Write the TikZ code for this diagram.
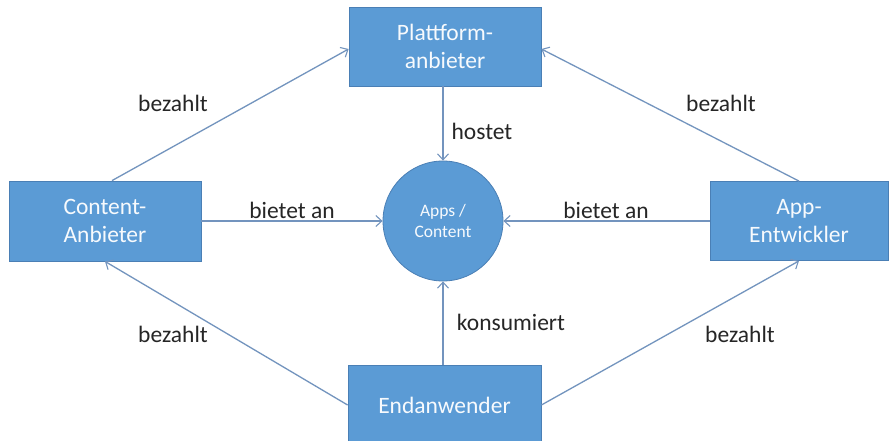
\documentclass[tikz,border=0pt]{standalone}
\usepackage{fontspec}
\setmainfont{Carlito}
\usetikzlibrary{arrows.meta}
\definecolor{boxfill}{HTML}{5B9BD5}
\definecolor{boxline}{HTML}{4A7FB5}
\definecolor{arrowcol}{HTML}{7394BE}
\definecolor{labelcol}{HTML}{262626}
\tikzset{
  actor/.style={rectangle, fill=boxfill, draw=boxline, line width=0.8pt,
    text=white!95!boxfill, align=center, inner sep=0pt,
    font=\fontsize{23.5}{28}\selectfont},
  hub/.style={circle, fill=boxfill, draw=boxline, line width=0.8pt,
    minimum size=120pt, inner sep=0pt, text=white!95!boxfill, align=center,
    font=\fontsize{17.5}{21}\selectfont},
  flow/.style={draw=arrowcol, line width=1.3pt,
    -{Straight Barb[length=6pt,width=11pt,line width=1.1pt]}},
  tag/.style={text=labelcol, inner sep=0pt, font=\fontsize{23.5}{28}\selectfont}
}
\begin{document}
\begin{tikzpicture}[x=1pt, y=-1pt]
  \clip (0,0) rectangle (893,441);
  \fill[white] (0,0) rectangle (893,441);

  % participants
  \node[actor, minimum width=192pt, minimum height=79pt] (plat) at (445,46.5) {Plattform-\\anbieter};
  \node[actor, minimum width=192pt, minimum height=80pt] (cont) at (105,221) {Content-\\Anbieter};
  \node[actor, minimum width=178pt, minimum height=79pt] (dev) at (799,221) {App-\\Entwickler};
  \node[actor, minimum width=193pt, minimum height=80pt] (user) at (444.5,405) {Endanwender};
  \node[hub] (apps) at (443,221) {Apps /\\Content};

  % relations
  \draw[flow] (cont.north) ++(7,0) coordinate (c1) -- (plat.west |- 0,49);
  \draw[flow] (dev.north) -- (plat.east |- 0,49);
  \draw[flow] (cont.east) -- (apps.west);
  \draw[flow] (dev.west) -- (apps.east);
  \draw[flow] (plat.south -| apps.north) -- (apps.north);
  \draw[flow] (user.north -| apps.south) -- (apps.south);
  \draw[flow] (user.west) -- (cont.south);
  \draw[flow] (user.east) -- (dev.south);

  % labels
  \node[tag] (l1) at (173,103) {bezahlt};
  \node[tag] (l2) at (721,103) {bezahlt};
  \node[tag] (l3) at (173,334) {bezahlt};
  \node[tag] (l4) at (740,334) {bezahlt};
  \node[tag] (l5) at (482,131) {hostet};
  \node[tag] (l6) at (292,210) {bietet an};
  \node[tag] (l7) at (606,210) {bietet an};
  \node[tag] (l8) at (511,322) {konsumiert};
\end{tikzpicture}
\end{document}
